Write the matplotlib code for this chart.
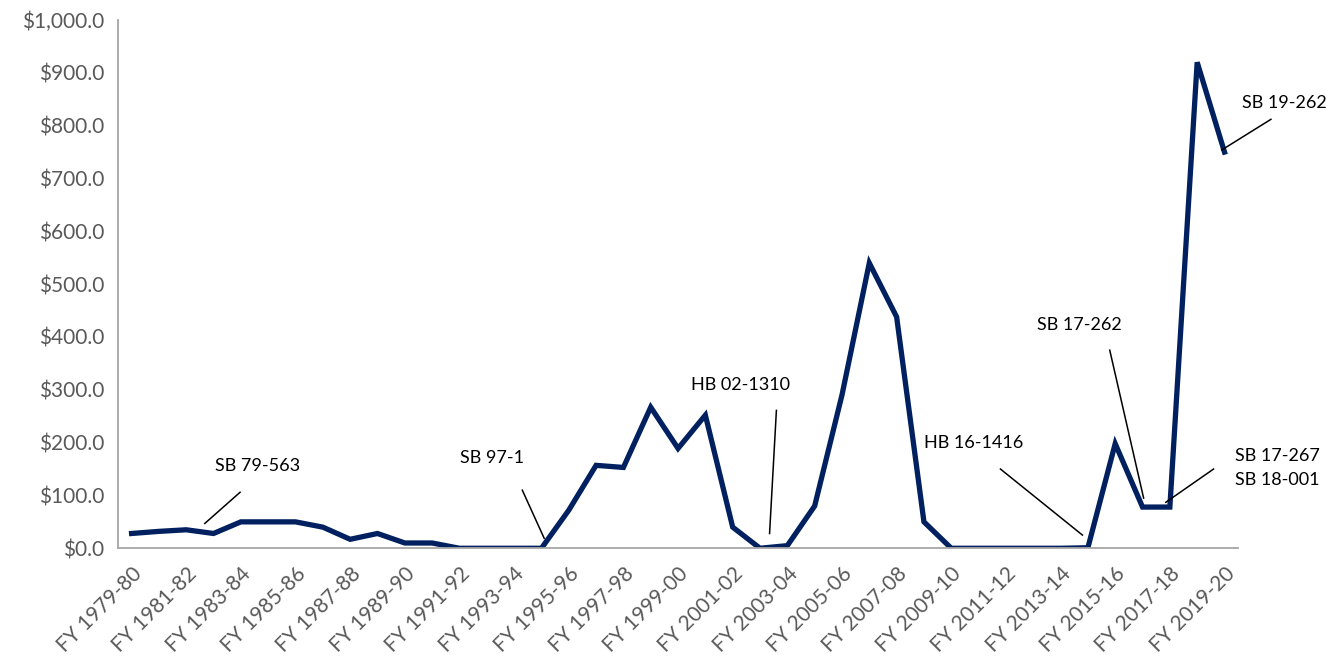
import matplotlib.pyplot as plt
from matplotlib.ticker import FuncFormatter

years = list(range(1979, 2020))
labels = [f"FY {y}-{str(y + 1)[-2:]}" for y in years]
values = [28, 32, 35, 28, 50, 50, 50, 40, 17, 28,
          10, 10, 0, 0, 0, 0, 72, 157, 153, 267,
          189, 252, 40, 0, 5, 80, 290, 540, 438, 50,
          0, 0, 0, 0, 0, 1, 198, 78, 78, 920,
          750]

# (text, text x, text y, line start x, line start y, line end x, line end y, ha)
notes = [
    ("SB 79-563", 4.6, 155, 3.97, 106, 2.68, 47, "center"),
    ("SB 97-1", 13.2, 170, 14.3, 110, 15.1, 19, "center"),
    ("HB 02-1310", 22.3, 309, 23.6, 261, 23.35, 28, "center"),
    ("HB 16-1416", 30.8, 199, 31.8, 150, 34.8, 25, "center"),
    ("SB 17-262", 34.7, 422, 35.8, 375, 37.04, 95, "center"),
    ("SB 17-267\nSB 18-001", 40.4, 152, 39.6, 150, 37.85, 87, "left"),
    ("SB 19-262", 42.2, 843, 41.7, 812, 39.9, 754, "center"),
]

plt.rcParams['font.family'] = ['Lato', 'DejaVu Sans']

fig = plt.figure(figsize=(13.4, 6.67), dpi=100)
ax = fig.add_axes([0.088, 0.178, 0.836, 0.792])

x = list(range(len(values)))
ax.plot(x, values, color="#002060", linewidth=3.8, solid_joinstyle="miter")

ax.set_xlim(-0.5, len(values) - 0.5)
ax.set_ylim(0, 1000)
ax.set_yticks(range(0, 1001, 100))
ax.yaxis.set_major_formatter(FuncFormatter(lambda v, p: f"${v:,.1f}"))
ax.set_xticks(x[::2])
ax.set_xticklabels(labels[::2], rotation=45, ha="right", rotation_mode="anchor")

ax.tick_params(axis="both", length=0, labelsize=15, labelcolor="#595959")
ax.tick_params(axis="y", pad=10)
ax.tick_params(axis="x", pad=11)

for s in ["top", "right"]:
    ax.spines[s].set_visible(False)
for s in ["left", "bottom"]:
    ax.spines[s].set_color("#A6A6A6")
    ax.spines[s].set_linewidth(1.3)

for txt, tx, ty, sx, sy, ex, ey, ha in notes:
    ax.text(tx, ty, txt, ha=ha, va="center", fontsize=13, color="black",
            linespacing=1.6, clip_on=False)
    ax.plot([sx, ex], [sy, ey], color="black", linewidth=1.1, clip_on=False)

fig.savefig("out.png", dpi=100)
